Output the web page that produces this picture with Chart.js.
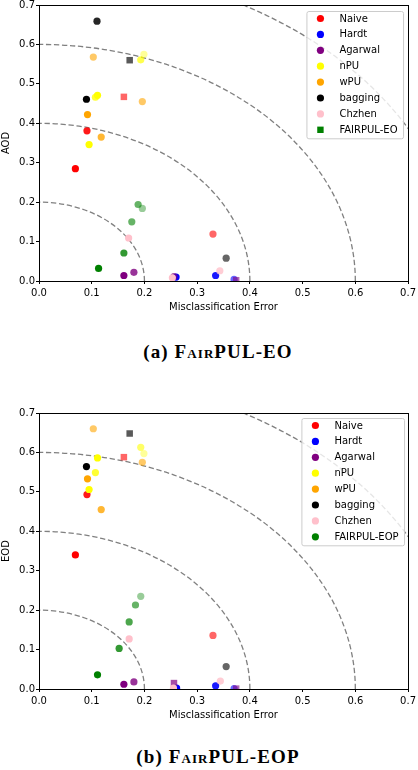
<!DOCTYPE html>
<html>
<head>
<meta charset="utf-8">
<script src="https://cdn.jsdelivr.net/npm/chart.js@4.4.1/dist/chart.umd.min.js"></script>
<style>
  html, body { margin: 0; padding: 0; background: #fff; }
  body { width: 418px; height: 770px; overflow: hidden; position: relative; }
  .panel { position: absolute; left: 0; width: 419px; height: 318px; }
  #panelEO { top: -2px; }
  #panelEOP { top: 406px; }
  .caption {
    position: absolute; left: 0; width: 436px; text-align: center;
    font-family: "Liberation Serif", "Times New Roman", serif; font-weight: bold;
    font-size: 19px; line-height: 20px; letter-spacing: 1.1px; color: #000;
  }
  .caption .sc { font-variant: small-caps; }
  #capEO { top: 342px; }
  #capEOP { top: 747px; }
</style>
</head>
<body>
<div class="panel" id="panelEO"><canvas id="chartEO"></canvas></div>
<div class="caption" id="capEO">(a) <span class="sc">FairPUL-EO</span></div>
<div class="panel" id="panelEOP"><canvas id="chartEOP"></canvas></div>
<div class="caption" id="capEOP">(b) <span class="sc">FairPUL-EOP</span></div>

<script>
// metodos e cores (mesma ordem da legenda)
const metodos = ["Naive", "Hardt", "Agarwal", "nPU", "wPU", "bagging", "Chzhen"];
const cores = ["#ff0000", "#0000ff", "#800080", "#ffff00", "#ffa500", "#000000", "#ffc0cb", "#008000"];
const ticksEixo = [0.0, 0.1, 0.2, 0.3, 0.4, 0.5, 0.6, 0.7];
const raiosGuia = [0.2, 0.4, 0.6, 0.8];

// (a) erro de classificacao x AOD
const eoNaive   = [[0.069, 0.285], [0.091, 0.381], [0.161, 0.467], [0.330, 0.119]];
const eoHardt   = [[0.260, 0.010], [0.335, 0.014], [0.370, 0.004]];
const eoAgarwal = [[0.161, 0.014], [0.180, 0.022], [0.256, 0.011], [0.374, 0.002]];
const eoNPU     = [[0.095, 0.346], [0.107, 0.466], [0.111, 0.471], [0.193, 0.561], [0.199, 0.575]];
const eoWPU     = [[0.092, 0.422], [0.118, 0.365], [0.103, 0.568], [0.196, 0.455]];
const eoBagging = [[0.090, 0.461], [0.110, 0.659], [0.172, 0.560], [0.355, 0.058]];
const eoChzhen  = [[0.253, 0.008], [0.170, 0.109], [0.343, 0.026]];
const eoFairpul = [[0.113, 0.032], [0.161, 0.071], [0.176, 0.150], [0.188, 0.194], [0.196, 0.184]];

// (b) erro de classificacao x EOD
const eopNaive   = [[0.069, 0.340], [0.091, 0.493], [0.161, 0.588], [0.330, 0.136]];
const eopHardt   = [[0.261, 0.002], [0.335, 0.008], [0.370, 0.001]];
const eopAgarwal = [[0.161, 0.012], [0.180, 0.018], [0.256, 0.015], [0.374, 0.001]];
const eopNPU     = [[0.095, 0.506], [0.107, 0.549], [0.111, 0.586], [0.193, 0.613], [0.199, 0.597]];
const eopWPU     = [[0.092, 0.533], [0.118, 0.455], [0.103, 0.660], [0.196, 0.575]];
const eopBagging = [[0.090, 0.564], [0.172, 0.648], [0.355, 0.057]];
const eopChzhen  = [[0.255, 0.002], [0.171, 0.127], [0.344, 0.020]];
const eopFairpul = [[0.111, 0.036], [0.152, 0.103], [0.171, 0.170], [0.183, 0.213], [0.193, 0.235]];

// estilo por ponto: opacidade e quais indices sao quadrados
const eoAlpha = [[1, 0.9, 0.6, 0.6], [1, 0.9, 0.6], [1, 0.8, 0.7, 0.6], [1, 0.8, 1, 0.7, 0.4],
                 [1, 0.8, 0.6, 0.6], [1, 0.85, 0.65, 0.6], [1, 1, 0.8], [1, 0.8, 0.6, 0.6, 0.4]];
const eoQuadrados = [[2], [], [3], [], [], [2], [], []];
const eopAlpha = [[1, 0.9, 0.6, 0.6], [1, 0.9, 0.6], [1, 0.8, 0.7, 0.6], [1, 0.8, 1, 0.6, 0.4],
                  [1, 0.8, 0.6, 0.6], [1, 0.65, 0.6], [1, 1, 0.8], [1, 0.8, 0.7, 0.6, 0.4]];
const eopQuadrados = [[2], [], [2, 3], [], [], [1], [], []];

const fonte = "DejaVu Sans";

function rgba(hex, a) {
  const n = parseInt(hex.slice(1), 16);
  return `rgba(${(n >> 16) & 255}, ${(n >> 8) & 255}, ${n & 255}, ${a})`;
}

function montarDatasets(series, rotulos, alphas, quadrados) {
  return series.map((pts, i) => ({
    label: rotulos[i],
    data: pts.map(([x, y]) => ({ x, y })),
    pointBackgroundColor: pts.map((p, j) => rgba(cores[i], alphas[i][j])),
    pointStyle: pts.map((p, j) => (quadrados[i].includes(j) ? "rect" : "circle")),
    pointRadius: pts.map((p, j) => (quadrados[i].includes(j) ? 4.6 : 3.6)),
    pointBorderWidth: 0,
    showLine: false,
    order: series.length - i,
  }));
}

// circulos tracejados de referencia
const guiasPlugin = {
  id: "guias",
  beforeDatasetsDraw(chart) {
    const { ctx, chartArea, scales } = chart;
    const x0 = scales.x.getPixelForValue(0);
    const y0 = scales.y.getPixelForValue(0);
    ctx.save();
    ctx.beginPath();
    ctx.rect(chartArea.left, chartArea.top, chartArea.width, chartArea.height);
    ctx.clip();
    ctx.strokeStyle = "#808080";
    ctx.lineWidth = 1.3;
    ctx.setLineDash([5.3, 2.7]);
    raiosGuia.forEach((r) => {
      const rx = scales.x.getPixelForValue(r) - x0;
      const ry = y0 - scales.y.getPixelForValue(r);
      ctx.beginPath();
      ctx.ellipse(x0, y0, rx, ry, 0, 0, -Math.PI / 2, true);
      ctx.stroke();
    });
    ctx.restore();
  },
};

// moldura + legenda no canto superior direito
const molduraLegendaPlugin = {
  id: "molduraLegenda",
  afterDatasetsDraw(chart, args, opts) {
    const { ctx, chartArea } = chart;
    ctx.save();
    ctx.strokeStyle = "#000";
    ctx.lineWidth = 1;
    ctx.strokeRect(Math.round(chartArea.left) + 0.5, Math.round(chartArea.top) + 0.5,
      Math.round(chartArea.width), Math.round(chartArea.height));

    const ds = chart.data.datasets;
    ctx.font = `10px "${fonte}"`;
    const maxW = Math.max(...ds.map((d) => ctx.measureText(d.label).width));
    const passo = 15.9;
    const largura = 33 + maxW + 5.5;
    const altura = 7.5 + (ds.length - 1) * passo + 8.5;
    const bx = chartArea.right - opts.margemDireita - largura;
    const by = chartArea.top + opts.margemTopo;

    ctx.beginPath();
    ctx.roundRect(bx + 0.5, by + 0.5, largura, altura, 2);
    ctx.fillStyle = "rgba(255,255,255,0.8)";
    ctx.fill();
    ctx.strokeStyle = "#cccccc";
    ctx.stroke();

    ds.forEach((d, i) => {
      const cy = by + 7.5 + i * passo;
      const estilo = opts.marcadores[i];
      ctx.fillStyle = cores[i];
      ctx.beginPath();
      if (estilo === "rect") {
        ctx.rect(bx + 14 - 3.2, cy - 3.2, 6.4, 6.4);
      } else {
        ctx.arc(bx + 14, cy, 3.6, 0, Math.PI * 2);
      }
      ctx.fill();
      ctx.fillStyle = "#000";
      ctx.textAlign = "left";
      ctx.textBaseline = "middle";
      ctx.fillText(d.label, bx + 33, cy + 0.5);
    });
    ctx.restore();
  },
};

function eixo(tituloTexto, horizontal) {
  return {
    type: "linear",
    min: 0,
    max: 0.7,
    afterBuildTicks: (s) => { s.ticks = ticksEixo.map((v) => ({ value: v })); },
    afterFit: (s) => {
      if (horizontal) s.height = 32; else s.width = 39;
    },
    ticks: {
      callback: (v) => Number(v).toFixed(1),
      font: { family: fonte, size: 10 },
      color: "#000",
      padding: horizontal ? 3 : 1,
      maxRotation: 0,
      autoSkip: false,
    },
    grid: { drawOnChartArea: false, drawTicks: true, tickLength: 3, color: "#000" },
    border: { color: "#000", width: 1 },
    title: {
      display: true,
      text: tituloTexto,
      font: { family: fonte, size: 10 },
      color: "#000",
      padding: { top: 0, bottom: 0 },
    },
  };
}

function criarGrafico(id, series, rotulos, alphas, quadrados, tituloY, marcadores, margens) {
  const ctx = document.getElementById(id).getContext("2d");
  return new Chart(ctx, {
    type: "scatter",
    data: { datasets: montarDatasets(series, rotulos, alphas, quadrados) },
    options: {
      responsive: true,
      maintainAspectRatio: false,
      animation: false,
      events: [],
      layout: { padding: { left: 0, right: 0, top: 0, bottom: 3 } },
      scales: { x: eixo("Misclassification Error", true), y: eixo(tituloY, false) },
      plugins: {
        legend: { display: false },
        tooltip: { enabled: false },
        molduraLegenda: { marcadores, margemDireita: margens[0], margemTopo: margens[1] },
      },
    },
    plugins: [guiasPlugin, molduraLegendaPlugin],
  });
}

criarGrafico(
  "chartEO",
  [eoNaive, eoHardt, eoAgarwal, eoNPU, eoWPU, eoBagging, eoChzhen, eoFairpul],
  [...metodos, "FAIRPUL-EO"],
  eoAlpha, eoQuadrados, "AOD",
  ["circle", "circle", "circle", "circle", "circle", "circle", "circle", "rect"],
  [5, 6]
);

criarGrafico(
  "chartEOP",
  [eopNaive, eopHardt, eopAgarwal, eopNPU, eopWPU, eopBagging, eopChzhen, eopFairpul],
  [...metodos, "FAIRPUL-EOP"],
  eopAlpha, eopQuadrados, "EOD",
  ["circle", "circle", "circle", "circle", "circle", "circle", "circle", "circle"],
  [4, 5]
);
</script>
</body>
</html>
